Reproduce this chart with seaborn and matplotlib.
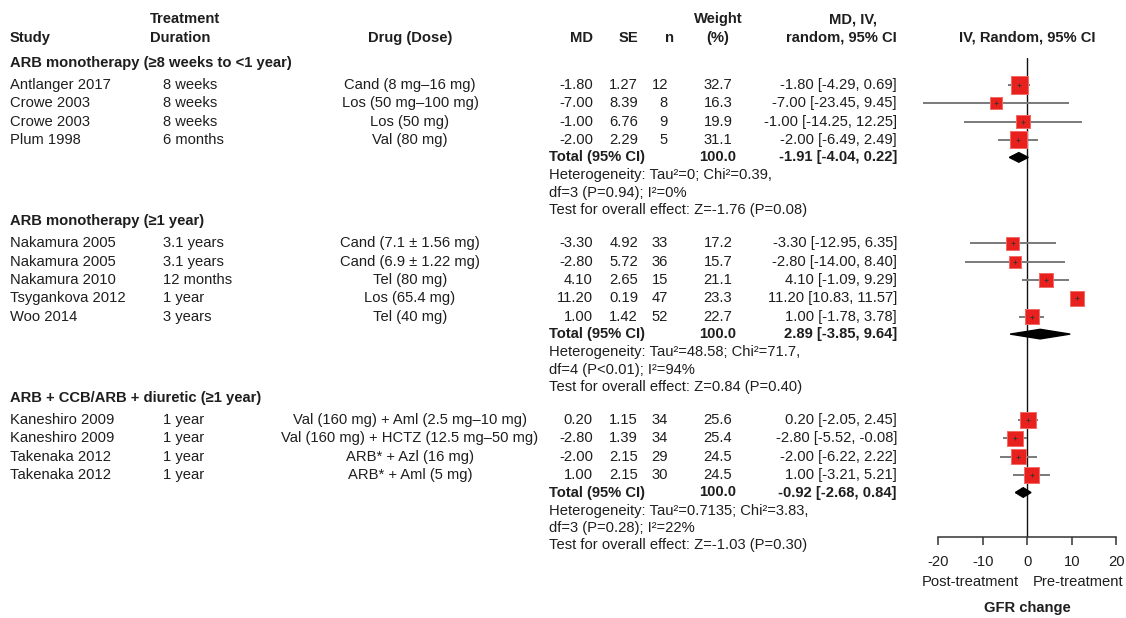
import matplotlib
matplotlib.use("Agg")
import matplotlib.pyplot as plt
from matplotlib.patches import Polygon
import pandas as pd
import seaborn as sns

# ---------------- data ----------------
groups = [
    "ARB monotherapy (≥8 weeks to <1 year)",
    "ARB monotherapy (≥1 year)",
    "ARB + CCB/ARB + diuretic (≥1 year)",
]
study_group = [0, 0, 0, 0, 1, 1, 1, 1, 1, 2, 2, 2, 2]
studies = ["Antlanger 2017", "Crowe 2003", "Crowe 2003", "Plum 1998",
           "Nakamura 2005", "Nakamura 2005", "Nakamura 2010", "Tsygankova 2012", "Woo 2014",
           "Kaneshiro 2009", "Kaneshiro 2009", "Takenaka 2012", "Takenaka 2012"]
durations = ["8 weeks", "8 weeks", "8 weeks", "6 months",
             "3.1 years", "3.1 years", "12 months", "1 year", "3 years",
             "1 year", "1 year", "1 year", "1 year"]
drugs = ["Cand (8 mg–16 mg)", "Los (50 mg–100 mg)", "Los (50 mg)", "Val (80 mg)",
         "Cand (7.1 ± 1.56 mg)", "Cand (6.9 ± 1.22 mg)", "Tel (80 mg)", "Los (65.4 mg)", "Tel (40 mg)",
         "Val (160 mg) + Aml (2.5 mg–10 mg)", "Val (160 mg) + HCTZ (12.5 mg–50 mg)",
         "ARB* + Azl (16 mg)", "ARB* + Aml (5 mg)"]
md = [-1.80, -7.00, -1.00, -2.00, -3.30, -2.80, 4.10, 11.20, 1.00, 0.20, -2.80, -2.00, 1.00]
se = [1.27, 8.39, 6.76, 2.29, 4.92, 5.72, 2.65, 0.19, 1.42, 1.15, 1.39, 2.15, 2.15]
n = [12, 8, 9, 5, 33, 36, 15, 47, 52, 34, 34, 29, 30]
weight = [32.7, 16.3, 19.9, 31.1, 17.2, 15.7, 21.1, 23.3, 22.7, 25.6, 25.4, 24.5, 24.5]
ci_low = [-4.29, -23.45, -14.25, -6.49, -12.95, -14.00, -1.09, 10.83, -1.78, -2.05, -5.52, -6.22, -3.21]
ci_high = [0.69, 9.45, 12.25, 2.49, 6.35, 8.40, 9.29, 11.57, 3.78, 2.45, -0.08, 2.22, 5.21]

total_md = [-1.91, 2.89, -0.92]
total_low = [-4.04, -3.85, -2.68]
total_high = [0.22, 9.64, 0.84]
het_line1 = ["Heterogeneity: Tau²=0; Chi²=0.39,",
             "Heterogeneity: Tau²=48.58; Chi²=71.7,",
             "Heterogeneity: Tau²=0.7135; Chi²=3.83,"]
het_line2 = ["df=3 (P=0.94); I²=0%", "df=4 (P<0.01); I²=94%", "df=3 (P=0.28); I²=22%"]
overall_test = ["Test for overall effect: Z=-1.76 (P=0.08)",
                "Test for overall effect: Z=0.84 (P=0.40)",
                "Test for overall effect: Z=-1.03 (P=0.30)"]
x_ticks = [-20, -10, 0, 10, 20]

# ---------------- styling ----------------
sns.set_theme(style="white")
plt.rcParams["font.family"] = ["Liberation Sans", "DejaVu Sans"]
TXT = "#1e1e1e"
FS = 10.6
RED = "#E8211E"
GREY = "#7a7a7a"

W, H = 1126, 618
fig = plt.figure(figsize=(W / 100, H / 100), dpi=100)
tax = fig.add_axes([0, 0, 1, 1])
tax.set_xlim(0, W)
tax.set_ylim(H, 0)
tax.axis("off")

# column anchors (pixels)
X_STUDY, X_DUR, X_DRUG = 10, 163, 410
X_MD, X_SE, X_N, X_WT, X_CI = 593, 638, 668, 718, 897
X_TOT = 549


def put(x, y, s, ha="left", bold=False):
    tax.text(x, y, s, ha=ha, va="center", fontsize=FS, color=TXT,
             fontweight="bold" if bold else "normal")


# header
put(X_STUDY, 38, "Study", bold=True)
put(150, 19, "Treatment", bold=True)
put(150, 38, "Duration", bold=True)
put(X_DRUG, 38, "Drug (Dose)", ha="center", bold=True)
put(X_MD, 38, "MD", ha="right", bold=True)
put(X_SE, 38, "SE", ha="right", bold=True)
put(X_N + 1, 38, "n", ha="center", bold=True)
put(X_WT, 19, "Weight", ha="center", bold=True)
put(X_WT, 38, "(%)", ha="center", bold=True)
put(853, 19, "MD, IV,", ha="center", bold=True)
put(X_CI, 38, "random, 95% CI", ha="right", bold=True)
put(1027, 38, "IV, Random, 95% CI", ha="center", bold=True)

# vertical layout of rows
study_y = [0.0] * len(studies)
group_y, total_y, het1_y, het2_y, test_y = [], [], [], [], []
y = 63.0
for g in range(len(groups)):
    group_y.append(y)
    yy = y + 22.0
    idx = [i for i, s in enumerate(study_group) if s == g]
    for k, i in enumerate(idx):
        study_y[i] = yy + k * 18.3
    ty = study_y[idx[-1]] + 17.5
    total_y.append(ty)
    het1_y.append(ty + 18.0)
    het2_y.append(ty + 35.5)
    test_y.append(ty + 53.0)
    y = ty + 64.0

# table text
for g in range(len(groups)):
    put(X_STUDY, group_y[g], groups[g], bold=True)
    put(X_TOT, total_y[g], "Total (95% CI)", bold=True)
    put(X_WT, total_y[g], "100.0", ha="center", bold=True)
    put(X_CI, total_y[g], f"{total_md[g]:.2f} [{total_low[g]:.2f}, {total_high[g]:.2f}]", ha="right", bold=True)
    put(X_TOT, het1_y[g], het_line1[g])
    put(X_TOT, het2_y[g], het_line2[g])
    put(X_TOT, test_y[g], overall_test[g])

for i in range(len(studies)):
    yy = study_y[i]
    put(X_STUDY, yy, studies[i])
    put(X_DUR, yy, durations[i])
    put(X_DRUG, yy, drugs[i], ha="center")
    put(X_MD, yy, f"{md[i]:.2f}", ha="right")
    put(X_SE, yy, f"{se[i]:.2f}", ha="right")
    put(X_N, yy, f"{n[i]}", ha="right")
    put(X_WT, yy, f"{weight[i]:.1f}", ha="center")
    put(X_CI, yy, f"{md[i]:.2f} [{ci_low[i]:.2f}, {ci_high[i]:.2f}]", ha="right")

# ---------------- forest panel ----------------
PX0, PX_PER = 1027.3, 4.45          # zero position and pixels per unit
FL, FR, FT, FB = 915, W, 58, 537   # panel bounds in pixels
fax = fig.add_axes([FL / W, (H - FB) / H, (FR - FL) / W, (FB - FT) / H])
fax.set_xlim((FL - PX0) / PX_PER, (FR - PX0) / PX_PER)
fax.set_ylim(FB, FT)
fax.patch.set_alpha(0)

df = pd.DataFrame({"md": md, "lo": ci_low, "hi": ci_high, "w": weight, "y": study_y})

fax.axvline(0, color="#111111", lw=1.0, zorder=1)
fax.hlines(df["y"], df["lo"], df["hi"], color=GREY, lw=1.4, zorder=2)
# square area proportional to study weight
sns.scatterplot(data=df, x="md", y="y", size="w", sizes=(0, 480), size_norm=(0, 100),
                marker="s", color=RED, edgecolor="#f26a66", linewidth=0.7,
                legend=False, ax=fax, zorder=3)
fax.scatter(df["md"], df["y"], marker="+", s=12, color="#333333", linewidths=0.6, zorder=4)

for g in range(len(groups)):
    ty = total_y[g]
    fax.add_patch(Polygon([(total_low[g], ty), (total_md[g], ty - 4.8),
                           (total_high[g], ty), (total_md[g], ty + 4.8)],
                          closed=True, color="black", zorder=4))

for side in ["top", "right", "left"]:
    fax.spines[side].set_visible(False)
fax.spines["bottom"].set_bounds(x_ticks[0], x_ticks[-1])
fax.spines["bottom"].set_color("#333333")
fax.spines["bottom"].set_linewidth(1.1)
fax.set_xticks(x_ticks)
fax.set_xticklabels([str(t) for t in x_ticks])
fax.set_yticks([])
fax.tick_params(axis="x", direction="out", length=6, width=1.1, color="#333333",
                labelsize=FS, labelcolor=TXT, pad=7, bottom=True)
fax.set_xlabel("")
fax.set_ylabel("")

put(1019, 582, "Post-treatment", ha="right")
put(1033, 582, "Pre-treatment", ha="left")
put(1027, 608, "GFR change", ha="center", bold=True)

fig.savefig("out.png", dpi=100)
